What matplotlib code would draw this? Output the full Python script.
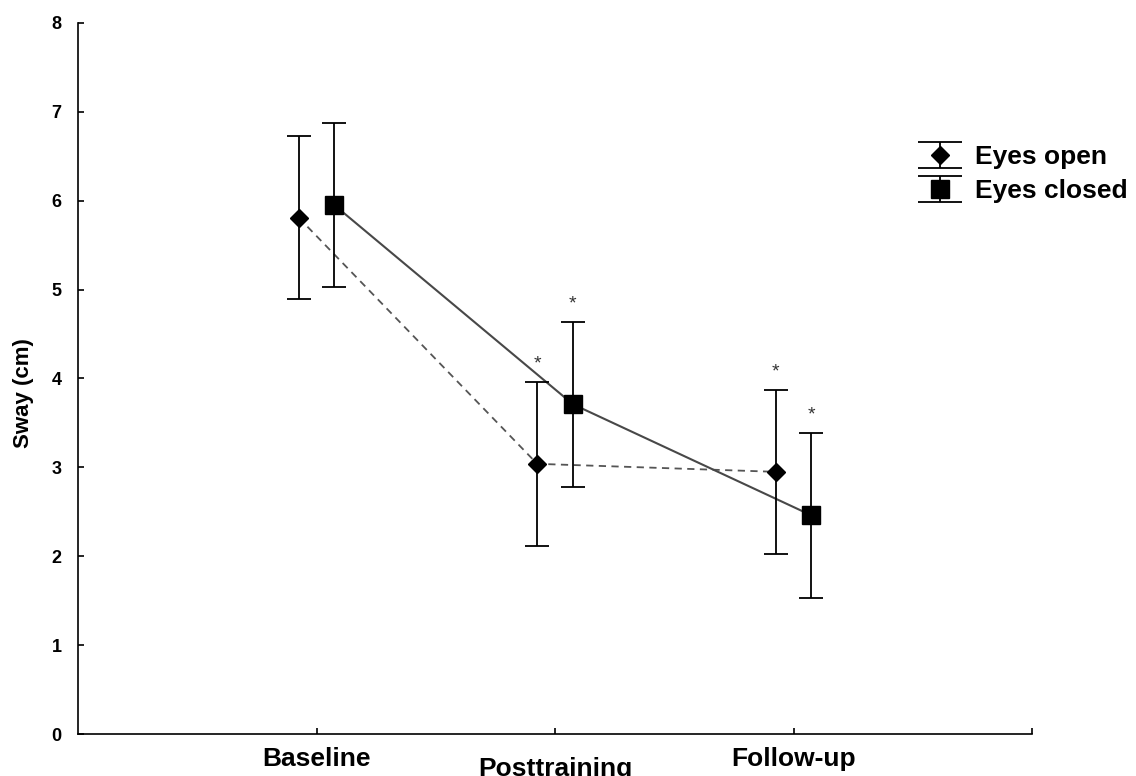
import numpy as np
import matplotlib
matplotlib.use('Agg')
import matplotlib.pyplot as plt
from matplotlib.legend_handler import HandlerErrorbar
from matplotlib.lines import Line2D

plt.rcParams['font.family'] = ['Liberation Sans', 'DejaVu Sans']
plt.rcParams['font.weight'] = 'bold'

# --- data ---
sessions = ['Baseline', 'Posttraining', 'Follow-up']
open_mean = [5.81, 3.04, 2.95]
open_err = [0.92, 0.92, 0.92]
closed_mean = [5.95, 3.71, 2.46]
closed_err = [0.92, 0.93, 0.93]
open_star = [False, True, True]
closed_star = [False, True, True]


class WideCapHandler(HandlerErrorbar):
    # legend caps as wide as the handle, middle line solid black
    def create_artists(self, *args, **kwargs):
        arts = super().create_artists(*args, **kwargs)
        for a in arts:
            if isinstance(a, Line2D):
                if a.get_marker() == '_':
                    a.set_markersize(31.5)
                elif a.get_linestyle() not in ('None', ''):
                    a.set_color('black')
                    a.set_linestyle('-')
        return arts


fig = plt.figure(figsize=(11.36, 7.76), dpi=100)
ax = fig.add_axes([0.0687, 0.0541, 0.8398, 0.9163])

x = np.arange(1, len(sessions) + 1)
shift = 0.075

eb_open = ax.errorbar(x - shift, open_mean, yerr=open_err, fmt='D', ms=8.8,
                      color='black', ecolor='black', elinewidth=1.3, capsize=8.6,
                      capthick=1.3, label='Eyes open', zorder=3)
eb_closed = ax.errorbar(x + shift, closed_mean, yerr=closed_err, fmt='s', ms=12.5,
                        color='black', ecolor='black', elinewidth=1.3, capsize=8.6,
                        capthick=1.3, label='Eyes closed', zorder=3)
ax.plot(x - shift, open_mean, color='#555555', lw=1.3, ls=(0, (4, 3)), zorder=2)
ax.plot(x + shift, closed_mean, color='#484848', lw=1.5, zorder=2)

for xi, m, e, s in zip(x - shift, open_mean, open_err, open_star):
    if s:
        ax.text(xi, m + e + 0.2, '*', ha='center', va='center', fontsize=14,
                fontweight='normal', color='#333333')
for xi, m, e, s in zip(x + shift, closed_mean, closed_err, closed_star):
    if s:
        ax.text(xi, m + e + 0.2, '*', ha='center', va='center', fontsize=14,
                fontweight='normal', color='#333333')

ax.set_xlim(0, 4)
ax.set_ylim(0, 8)
ax.set_xticks(x)
ax.set_xticklabels(sessions, fontsize=19)
ax.set_xticks([4], minor=True)
ax.set_yticks(range(0, 9))
ax.tick_params(axis='y', direction='in', length=4, width=1.2, pad=12, labelsize=13)
ax.tick_params(axis='x', which='both', direction='in', length=4, width=1.2, pad=9.5)
ax.xaxis.get_major_ticks()[1].label1.set_y(-0.014)

for side in ['top', 'right']:
    ax.spines[side].set_visible(False)
for side in ['left', 'bottom']:
    ax.spines[side].set_linewidth(1.2)

ax.set_ylabel('Sway (cm)', fontsize=16, fontweight='bold')
ax.yaxis.set_label_coords(-0.046, 0.48)

ax.legend(handles=[eb_open, eb_closed], loc='upper left',
          bbox_to_anchor=(0.881, 0.828), frameon=False, fontsize=19,
          handlelength=1.65, handletextpad=0.48, labelspacing=0.38, borderpad=0,
          borderaxespad=0, handler_map={type(eb_open): WideCapHandler()})

fig.savefig('out.png', dpi=100)
